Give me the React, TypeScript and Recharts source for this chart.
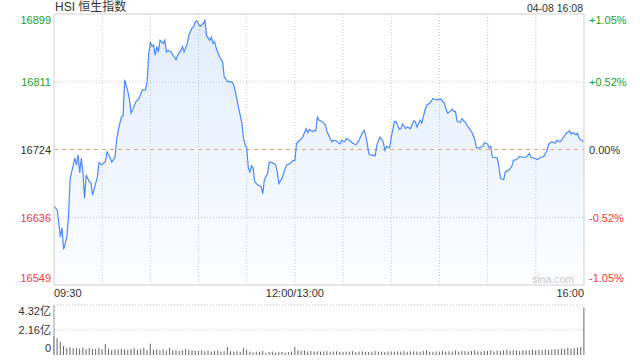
import { ComposedChart, Area, Line, Bar, XAxis, YAxis, ReferenceLine } from "recharts";

// intraday minutes from 09:30 (12:00 and 13:00 share minute 150)
const PRICE_MINUTES = [
  0, 2, 3, 4, 5, 6, 8, 9, 10, 11, 12, 13, 14, 15, 16, 17, 18, 19, 20, 22, 23, 24, 26, 27, 28,
  30, 31, 32, 33, 35, 36, 38, 39, 40, 42, 43, 44, 46, 47, 48, 50, 51, 53, 55, 57, 58, 59,
  60, 61, 62, 63, 64, 65, 66, 68, 69, 70, 71, 73, 74, 76, 77, 79, 80, 81, 83, 84, 86, 87, 88, 89,
  90, 91, 93, 94, 95, 97, 98, 99, 100, 101, 103, 105, 106, 108, 111, 112, 114, 115, 117, 118, 119,
  120, 121, 122, 123, 124, 125, 127, 129, 130, 131, 133, 134, 136, 138, 139, 140, 142, 144, 145, 147, 149,
  150, 151, 152, 154, 155, 156, 157, 158, 159, 161, 162, 163, 164, 165, 167, 169, 170, 172, 173, 174, 176, 178, 179,
  181, 182, 184, 186, 188, 190, 191, 193, 194, 195, 196, 197, 200, 201, 203, 205, 206, 207, 209,
  210, 212, 213, 215, 216, 217, 219, 220, 222, 224, 225, 226, 228, 229, 231, 232, 234, 236, 238,
  241, 243, 245, 246, 248, 249, 250, 251, 253, 254, 256, 257, 259, 260, 262, 263, 265, 267, 268,
  270, 271, 272, 273, 276, 277, 278, 280, 281, 283, 285, 286, 288, 290, 292, 294, 296, 297, 299,
  301, 303, 305, 307, 308, 310, 312, 313, 315, 316, 319, 321, 322, 323, 325, 326, 327, 330,
];

const PRICE_VALUES = [
  16651, 16646, 16629, 16611, 16623, 16595, 16611, 16637, 16685, 16695, 16704, 16713, 16704, 16717, 16694, 16713, 16694, 16661, 16691, 16682, 16681, 16665, 16681, 16688, 16707,
  16704, 16707, 16708, 16721, 16713, 16708, 16714, 16736, 16749, 16766, 16767, 16814, 16799, 16788, 16771, 16781, 16786, 16790, 16801, 16801, 16812, 16848,
  16863, 16857, 16859, 16846, 16857, 16850, 16865, 16861, 16865, 16850, 16852, 16850, 16846, 16840, 16846, 16852, 16857, 16850, 16861, 16872, 16881, 16883, 16889, 16890,
  16886, 16883, 16887, 16891, 16871, 16865, 16869, 16861, 16863, 16855, 16844, 16837, 16818, 16812, 16811, 16807, 16788, 16777, 16758, 16738, 16730,
  16726, 16700, 16695, 16703, 16700, 16682, 16678, 16676, 16667, 16685, 16693, 16708, 16707, 16704, 16695, 16680, 16687, 16700, 16704, 16706, 16710,
  16710, 16732, 16734, 16738, 16741, 16746, 16751, 16746, 16750, 16747, 16749, 16748, 16766, 16762, 16760, 16756, 16747, 16738, 16734, 16736, 16735, 16731, 16736,
  16734, 16738, 16736, 16732, 16730, 16736, 16741, 16749, 16743, 16732, 16719, 16717, 16716, 16730, 16740, 16734, 16723, 16728, 16726,
  16740, 16760, 16760, 16750, 16751, 16757, 16751, 16753, 16751, 16761, 16760, 16753, 16762, 16758, 16775, 16781, 16784, 16790, 16788,
  16789, 16784, 16771, 16772, 16776, 16773, 16773, 16760, 16759, 16764, 16759, 16756, 16750, 16747, 16737, 16726, 16726, 16728, 16733,
  16731, 16726, 16728, 16714, 16713, 16702, 16687, 16685, 16695, 16697, 16702, 16710, 16711, 16715, 16714, 16714, 16719, 16714, 16713,
  16711, 16714, 16715, 16723, 16731, 16734, 16732, 16736, 16734, 16736, 16745, 16748, 16744, 16746, 16743, 16745, 16738, 16734,
];

const PREV_CLOSE = 16724;
const PRICE_TICKS = [16549, 16636, 16724, 16811, 16899];
const PCT_LABELS = ["-1.05%", "-0.52%", "0.00%", "+0.52%", "+1.05%"];
const GRID_MINUTES = [30, 60, 90, 120, 150, 180, 210, 240, 270, 300];
const TIME_TICKS = [0, 150, 330];
const TIME_LABELS = ["09:30", "12:00/13:00", "16:00"];

// volume in 亿, one bar every 2 minutes, last one is the closing auction
const VOLUME_VALUES = [
  1.64, 1.45, 1.15, 0.78, 0.62, 0.66, 0.58, 0.6, 0.55, 0.62, 0.5, 0.6, 0.55, 0.52, 0.6,
  0.5, 0.95, 0.55, 0.45, 0.5, 0.48, 0.55, 0.5, 0.45, 0.52, 0.58, 0.45, 0.5, 0.62, 0.45,
  1.0, 0.45, 0.48, 0.42, 0.5, 0.38, 0.62, 0.4, 0.42, 0.35, 0.4, 0.55, 0.45, 0.4, 0.35,
  0.35, 0.4, 0.32, 0.38, 0.3, 0.35, 0.42, 0.3, 0.33, 0.7, 0.35, 0.3, 0.32, 0.28, 0.6,
  0.45, 0.3, 0.22, 0.28, 0.25, 0.35, 0.2, 0.25, 0.3, 0.22, 0.28, 0.25, 0.2, 0.25, 0.3,
  0.7, 0.42, 0.35, 0.38, 0.3, 0.35, 0.3, 0.33, 0.28, 0.3, 0.35, 0.28, 0.3, 0.32, 0.28,
  0.25, 0.3, 0.28, 0.35, 0.25, 0.3, 0.32, 0.28, 0.25, 0.3, 0.35, 0.3, 0.28, 0.25, 0.3,
  0.3, 0.28, 0.32, 0.3, 0.35, 0.28, 0.3, 0.33, 0.3, 0.28, 0.35, 0.4, 0.3, 0.28, 0.3,
  0.3, 0.35, 0.28, 0.32, 0.3, 0.38, 0.3, 0.35, 0.32, 0.3, 0.35, 0.4, 0.32, 0.3, 0.35,
  0.35, 0.4, 0.3, 0.38, 0.35, 0.4, 0.45, 0.35, 0.4, 0.38, 0.35, 0.42, 0.38, 0.4, 0.45,
  0.4, 0.45, 0.42, 0.5, 0.45, 0.48, 0.52, 0.5, 0.55, 0.52, 0.6, 0.55, 0.58, 0.62, 0.7,
  4.1,
];
const VOLUME_TICKS = [0, 2.16, 4.32];
const VOLUME_LABELS = ["0", "2.16亿", "4.32亿"];

const FONT = "Arial, 'Liberation Sans', 'Noto Sans CJK SC', sans-serif";
const TEXT = "#333";
const UP = "#22a022";
const DOWN = "#f03a3a";
const BORDER = "#d0d0d0";
const GRID = "#c4c4c4";

const priceData = PRICE_MINUTES.map((m, i) => ({ m, v: PRICE_VALUES[i] }));
const volumeData = VOLUME_VALUES.map((v, i) => ({ m: i * 2, v }));

function priceColor(v: number) {
  if (v > PREV_CLOSE) return UP;
  if (v < PREV_CLOSE) return DOWN;
  return TEXT;
}

// first/last labels sit inside the plot frame
function edgeShift(v: number, ticks: number[]) {
  if (v === ticks[0]) return -7;
  if (v === ticks[ticks.length - 1]) return 6;
  return 0;
}

function PriceTick(props: any) {
  const { x, y, payload } = props;
  const v = payload.value;
  return (
    <text x={x} y={y + edgeShift(v, PRICE_TICKS)} textAnchor="end" dominantBaseline="central"
      fill={priceColor(v)} fontSize={11} fontFamily={FONT}>
      {v}
    </text>
  );
}

function PctTick(props: any) {
  const { x, y, payload } = props;
  const v = payload.value;
  const i = PRICE_TICKS.indexOf(v);
  return (
    <text x={x} y={y + edgeShift(v, PRICE_TICKS)} textAnchor="start" dominantBaseline="central"
      fill={priceColor(v)} fontSize={11} fontFamily={FONT}>
      {PCT_LABELS[i]}
    </text>
  );
}

function TimeTick(props: any) {
  const { x, y, payload } = props;
  const i = TIME_TICKS.indexOf(payload.value);
  const anchor = i === 0 ? "start" : i === TIME_TICKS.length - 1 ? "end" : "middle";
  return (
    <text x={x} y={y + 6} textAnchor={anchor} dominantBaseline="central" fill={TEXT} fontSize={11} fontFamily={FONT}>
      {TIME_LABELS[i]}
    </text>
  );
}

function VolumeTick(props: any) {
  const { x, y, payload } = props;
  const v = payload.value;
  const i = VOLUME_TICKS.indexOf(v);
  return (
    <text x={x} y={y + edgeShift(v, VOLUME_TICKS)} textAnchor="end" dominantBaseline="central"
      fill={TEXT} fontSize={11} fontFamily={FONT}>
      {VOLUME_LABELS[i]}
    </text>
  );
}

export default function App() {
  return (
    <div style={{ position: "absolute", left: 0, top: 0, width: 640, height: 360, background: "#fff", fontFamily: FONT }}>
      <div style={{ position: "absolute", left: 55, top: 0, fontSize: 12, lineHeight: "15px", color: TEXT }}>
        HSI 恒生指数
      </div>
      <div style={{ position: "absolute", right: 57, top: 1, fontSize: 10.5, lineHeight: "14px", color: TEXT }}>
        04-08 16:08
      </div>

      <div style={{ position: "absolute", left: 0, top: 0 }}>
        <ComposedChart width={640} height={300} data={priceData} margin={{ top: 14, right: 0, bottom: 0, left: 0 }}>
          <defs>
            <linearGradient id="priceFill" x1="0" y1="0" x2="0" y2="1">
              <stop offset="0%" stopColor="#cddff9" />
              <stop offset="100%" stopColor="#fafcff" />
            </linearGradient>
          </defs>
          <XAxis dataKey="m" type="number" domain={[0, 330]} ticks={TIME_TICKS} height={15}
            axisLine={{ stroke: BORDER }} tickLine={false} tickSize={0} tick={<TimeTick />} interval={0} />
          <YAxis domain={[PRICE_TICKS[0], PRICE_TICKS[PRICE_TICKS.length - 1]]} ticks={PRICE_TICKS} width={54}
            axisLine={{ stroke: BORDER }} tickLine={false} tickSize={0} tickMargin={3} tick={<PriceTick />} interval={0} allowDataOverflow />
          <YAxis yAxisId="pct" orientation="right" domain={[PRICE_TICKS[0], PRICE_TICKS[PRICE_TICKS.length - 1]]} ticks={PRICE_TICKS} width={56}
            axisLine={{ stroke: BORDER }} tickLine={false} tickSize={0} tickMargin={5} tick={<PctTick />} interval={0} allowDataOverflow />
          <Area dataKey="v" type="linear" stroke="none" fill="url(#priceFill)" baseValue={PRICE_TICKS[0]}
            isAnimationActive={false} dot={false} activeDot={false} />
          {GRID_MINUTES.map((m) => (
            <ReferenceLine key={m} x={m} stroke={GRID} strokeDasharray="1 2" />
          ))}
          <ReferenceLine y={PRICE_TICKS[1]} stroke={GRID} strokeDasharray="1 2" />
          <ReferenceLine y={PRICE_TICKS[3]} stroke={GRID} strokeDasharray="1 2" />
          <ReferenceLine y={PREV_CLOSE} stroke="#f2a46c" strokeDasharray="4 4" />
          <ReferenceLine y={PRICE_TICKS[PRICE_TICKS.length - 1]} stroke={BORDER} />
          <Line dataKey="v" type="linear" stroke="#4a8af4" strokeWidth={1.2} dot={false} activeDot={false} isAnimationActive={false} />
          <Line yAxisId="pct" dataKey="v" stroke="none" dot={false} activeDot={false} isAnimationActive={false} />
        </ComposedChart>
      </div>

      <div style={{ position: "absolute", left: 532, top: 272, fontSize: 10.5, lineHeight: "14px", color: "#c8c8c8" }}>
        sina.com
      </div>

      <div style={{ position: "absolute", left: 0, top: 300 }}>
        <ComposedChart width={640} height={60} data={volumeData} margin={{ top: 5, right: 56, bottom: 5, left: 0 }}>
          <XAxis dataKey="m" type="number" domain={[0, 330]} hide />
          <YAxis domain={[0, 4.32]} ticks={VOLUME_TICKS} width={54} axisLine={{ stroke: "#999" }}
            tickLine={false} tickSize={0} tickMargin={3} tick={<VolumeTick />} interval={0} allowDataOverflow />
          <ReferenceLine y={VOLUME_TICKS[2]} stroke={GRID} strokeDasharray="1 2" />
          <ReferenceLine y={VOLUME_TICKS[1]} stroke={GRID} strokeDasharray="1 2" />
          <Bar dataKey="v" fill="#666" barSize={1} isAnimationActive={false} />
        </ComposedChart>
      </div>
    </div>
  );
}
